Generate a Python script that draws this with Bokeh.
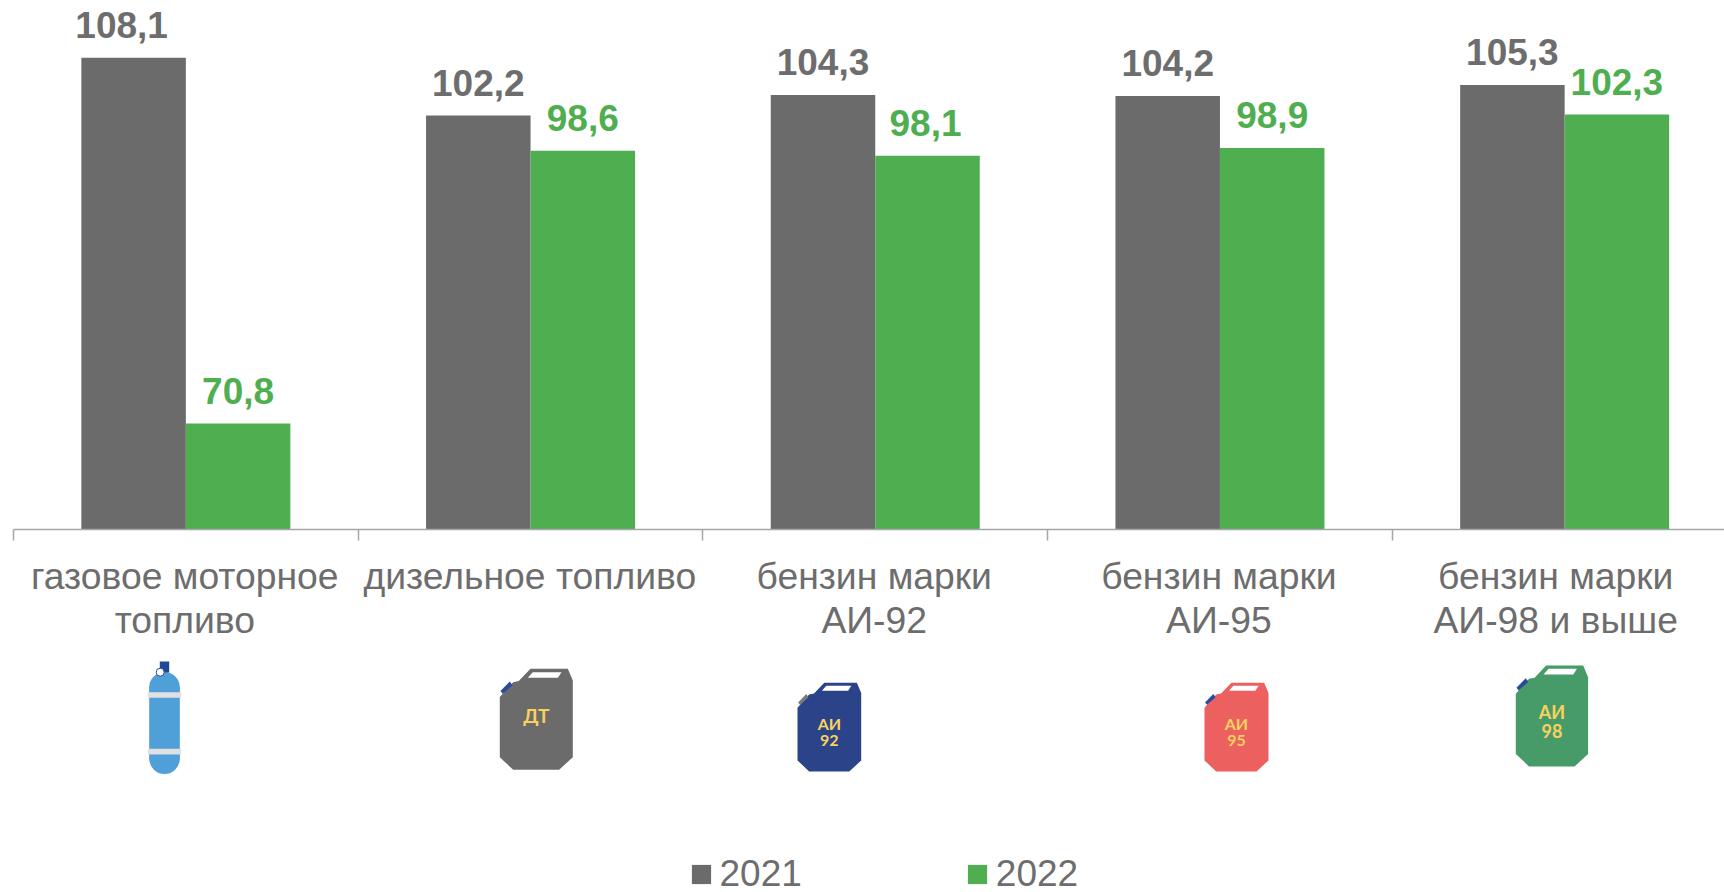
from bokeh.plotting import figure
from bokeh.models import Range1d, LinearAxis, FixedTicker, Legend, LegendItem
from bokeh.core.properties import value
from bokeh.embed import file_html
from bokeh.resources import INLINE

categories = ["газовое моторное\nтопливо", "дизельное топливо", "бензин марки\nАИ-92", "бензин марки\nАИ-95", "бензин марки\nАИ-98 и выше"]
years = ["2021", "2022"]
values_2021 = [108.1, 102.2, 104.3, 104.2, 105.3]
values_2022 = [70.8, 98.6, 98.1, 98.9, 102.3]
labels_2021 = ["108,1", "102,2", "104,3", "104,2", "105,3"]
labels_2022 = ["70,8", "98,6", "98,1", "98,9", "102,3"]

GRAY, GREEN, TXT = "#6b6b6b", "#4fae50", "#6d6d6d"
W, H, L, T = 1724, 892, 0, 0
X0, GROUP = 13, 344.7
Y0, UNIT, BASE = 529, 9.81, 60
BAR = 104.5 / GROUP

p = figure(width=W, height=H, output_backend="svg", toolbar_location=None,
           x_axis_type=None, y_axis_type=None, min_border=0,
           x_range=Range1d((L - X0) / GROUP, (L + W - X0) / GROUP),
           y_range=Range1d(BASE - (T + H - Y0) / UNIT, BASE + (Y0 - T) / UNIT))
p.outline_line_color = None
p.grid.visible = False
p.extra_x_ranges["px"] = Range1d(L, L + W)
p.extra_y_ranges["px"] = Range1d(T + H, T)

n = len(categories)
centres = [i + 0.5 for i in range(n)]
bounds = list(range(n + 1))
label_nudge = [-0.003, -0.002, -0.003, -0.003, -0.026]
label_pos = [c + d for c, d in zip(centres, label_nudge)]

axis = LinearAxis(ticker=FixedTicker(ticks=label_pos, minor_ticks=bounds), fixed_location=BASE, bounds=(0, 5))
axis.major_label_overrides = {c: t for c, t in zip(label_pos, categories)}
axis.major_tick_line_color = None
axis.major_tick_in = 0
axis.major_tick_out = 0
axis.minor_tick_in = 0
axis.minor_tick_out = 11
axis.minor_tick_line_color = "#a6a6a6"
axis.minor_tick_line_width = 1.5
axis.axis_line_color = "#a6a6a6"
axis.axis_line_width = 1.5
axis.major_label_standoff = 14
axis.major_label_text_font = "Liberation Sans"
axis.major_label_text_font_size = "37.3px"
axis.major_label_text_color = TXT
axis.major_label_text_line_height = 1.06
p.add_layout(axis, "below")

x1 = [c - BAR / 2 for c in centres]
x2 = [c + BAR / 2 for c in centres]
r1 = p.vbar(x=x1, top=values_2021, bottom=BASE, width=BAR, fill_color=GRAY, line_color=None)
r2 = p.vbar(x=x2, top=values_2022, bottom=BASE, width=BAR, fill_color=GREEN, line_color=None)

off1 = [-12, 0, 0, 0, 0]
off2 = [0, 0, -2, 0, 0]
p.text(x=x1, y=values_2021, text=labels_2021, x_offset=off1, y_offset=-33, text_align="center",
       text_baseline="alphabetic", text_color=TXT, text_font=value("Liberation Sans"),
       text_font_style="bold", text_font_size="37px")
p.text(x=x2, y=values_2022, text=labels_2022, x_offset=off2, y_offset=-33, text_align="center",
       text_baseline="alphabetic", text_color=GREEN, text_font=value("Liberation Sans"),
       text_font_style="bold", text_font_size="37px")

# Cylinder icon (screen pixels)
CYL = "#4f9fd9"
px = dict(x_range_name="px", y_range_name="px")
p.quad(left=[148.7], right=[179.3], top=[686], bottom=[759], fill_color=CYL, line_color=None, **px)
p.ellipse(x=[164, 164], y=[687, 758], width=30.6, height=31, fill_color=CYL, line_color=None, **px)
p.quad(left=[159.3], right=[168.7], top=[661], bottom=[672], fill_color="#1f4796", line_color=None, **px)
p.quad(left=[147.3, 147.3], right=[180.7, 180.7], top=[691.7, 748.3], bottom=[697.3, 754],
       fill_color="#e0e0e0", line_color=None, **px)
p.scatter(x=[159.7], y=[671.7], size=8, fill_color="white", line_color="#2b4a9b", line_width=1, **px)

# Canister icons (screen pixels)
body = [(0, .875), (.183, 1), (.813, 1), (1, .875), (1, .116), (.932, 0), (.42, 0), (.26, .122), (.183, .132), (0, .28)]
cap = [(.009, .221), (.137, .125), (.174, .162), (.041, .248)]
window = [(.384, .089), (.795, .089), (.845, .033), (.452, .033)]
canisters = [
    (499.3, 668.3, 73, 101, "#6b6b6b", "#2b4a9b", ["ДТ"], 19),
    (797, 682.3, 63.7, 88.7, "#2b4388", "#7a7a7a", ["АИ", "92"], 16),
    (1204, 682.3, 64, 88.7, "#ec6060", "#2b4a9b", ["АИ", "95"], 16),
    (1515.3, 665, 72.3, 101, "#479b68", "#2b4a9b", ["АИ", "98"], 18),
]
for left, top, w, h, col, capcol, lines, fs in canisters:
    for shape, c in ((body, col), (cap, capcol), (window, "white")):
        p.patch([left + a * w for a, _ in shape], [top + b * h for _, b in shape], fill_color=c, line_color=None, **px)
    ys = [.46] if len(lines) == 1 else [.46, .648]
    p.text(x=[left + .5 * w] * len(lines), y=[top + f * h for f in ys], text=lines, text_align="center",
           text_baseline="middle", text_color="#f7d25f", text_font=value("Lato"), text_font_style="bold",
           text_font_size=f"{fs}px", **px)

legend = Legend(items=[LegendItem(label=years[0], renderers=[r1]), LegendItem(label=years[1], renderers=[r2])],
                orientation="horizontal", location=(688.5, -2.5), margin=0, padding=0, spacing=163,
                glyph_width=24, glyph_height=24, label_standoff=7, background_fill_alpha=0, border_line_color=None,
                label_text_font="Liberation Sans", label_text_font_size="37px", label_text_color=TXT)
p.add_layout(legend, "center")

open("out.html", "w").write(file_html(p, INLINE))
